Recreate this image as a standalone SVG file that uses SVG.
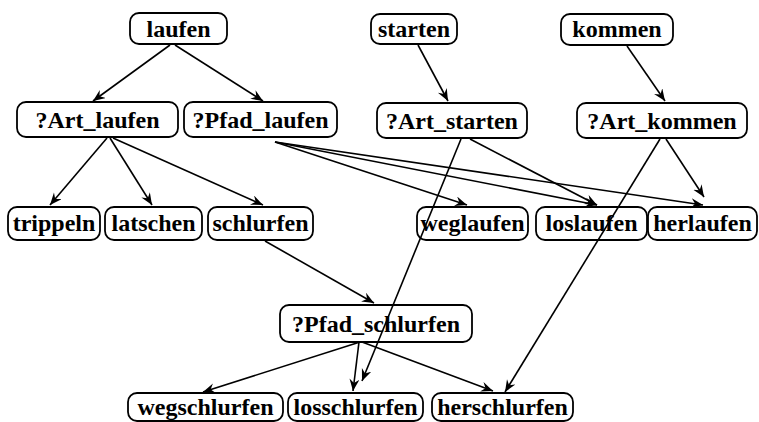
<svg xmlns="http://www.w3.org/2000/svg" width="759" height="422" viewBox="0 0 759 422">
<style>
.n rect{fill:none;stroke:#000;stroke-width:1.8}
.n text{font-family:"Liberation Serif","Times New Roman",serif;font-weight:bold;font-size:24px;text-anchor:middle;fill:#000}
#edges line{stroke:#000;stroke-width:1.6;fill:none}
</style>
<defs>
<marker id="ah" markerUnits="userSpaceOnUse" markerWidth="14" markerHeight="12" refX="12" refY="5" orient="auto">
<path d="M0,0 L12,5 L0,10 L4,5 z" fill="#000"/>
</marker>
</defs>
<rect width="759" height="422" fill="#fff"/>
<g id="edges">
<line x1="170" y1="45" x2="93" y2="101" marker-end="url(#ah)"/>
<line x1="175" y1="45" x2="263" y2="101" marker-end="url(#ah)"/>
<line x1="418" y1="45" x2="448" y2="101" marker-end="url(#ah)"/>
<line x1="627" y1="46" x2="665" y2="101" marker-end="url(#ah)"/>
<line x1="107" y1="138" x2="50" y2="205" marker-end="url(#ah)"/>
<line x1="110" y1="138" x2="152" y2="205" marker-end="url(#ah)"/>
<line x1="113" y1="138" x2="263" y2="205" marker-end="url(#ah)"/>
<line x1="275" y1="142" x2="467" y2="205" marker-end="url(#ah)"/>
<line x1="275" y1="142" x2="597" y2="205" marker-end="url(#ah)"/>
<line x1="275" y1="142" x2="703" y2="205" marker-end="url(#ah)"/>
<line x1="470" y1="139" x2="597" y2="205" marker-end="url(#ah)"/>
<line x1="666" y1="139" x2="704" y2="197" marker-end="url(#ah)"/>
<line x1="461" y1="139" x2="362" y2="381" marker-end="url(#ah)"/>
<line x1="660" y1="139" x2="505" y2="392" marker-end="url(#ah)"/>
<line x1="265" y1="241" x2="374" y2="303" marker-end="url(#ah)"/>
<line x1="360" y1="342" x2="203" y2="392" marker-end="url(#ah)"/>
<line x1="359" y1="342" x2="353" y2="391" marker-end="url(#ah)"/>
<line x1="362" y1="342" x2="493" y2="391" marker-end="url(#ah)"/>
</g>
<g id="laufen" class="n"><rect x="130" y="13" width="97" height="31" rx="9"/><text x="178.5" y="37">laufen</text></g>
<g id="starten" class="n"><rect x="371" y="14" width="86" height="30" rx="9"/><text x="414" y="37">starten</text></g>
<g id="kommen" class="n"><rect x="561" y="14" width="112" height="31" rx="9"/><text x="617" y="37">kommen</text></g>
<g id="art_laufen" class="n"><rect x="17" y="102" width="161" height="35" rx="9"/><text x="97.5" y="128">?Art_laufen</text></g>
<g id="pfad_laufen" class="n"><rect x="184" y="102" width="153" height="35" rx="9"/><text x="260.5" y="128">?Pfad_laufen</text></g>
<g id="art_starten" class="n"><rect x="377" y="103" width="150" height="35" rx="9"/><text x="452" y="129">?Art_starten</text></g>
<g id="art_kommen" class="n"><rect x="577" y="103" width="170" height="35" rx="9"/><text x="662" y="129">?Art_kommen</text></g>
<g id="trippeln" class="n"><rect x="8" y="207" width="92" height="33" rx="9"/><text x="54" y="231">trippeln</text></g>
<g id="latschen" class="n"><rect x="105" y="207" width="97" height="33" rx="9"/><text x="153.5" y="231">latschen</text></g>
<g id="schlurfen" class="n"><rect x="208" y="207" width="105" height="33" rx="9"/><text x="260.5" y="231">schlurfen</text></g>
<g id="weglaufen" class="n"><rect x="417" y="207" width="111" height="33" rx="9"/><text x="472.5" y="231">weglaufen</text></g>
<g id="loslaufen" class="n"><rect x="536" y="207" width="111" height="33" rx="9"/><text x="591.5" y="231">loslaufen</text></g>
<g id="herlaufen" class="n"><rect x="648" y="207" width="109" height="33" rx="9"/><text x="702.5" y="231">herlaufen</text></g>
<g id="pfad_schlurfen" class="n"><rect x="280" y="305" width="192" height="37" rx="9"/><text x="376" y="332">?Pfad_schlurfen</text></g>
<g id="wegschlurfen" class="n"><rect x="128" y="393" width="155" height="28" rx="9"/><text x="205.5" y="415">wegschlurfen</text></g>
<g id="losschlurfen" class="n"><rect x="288" y="393" width="135" height="28" rx="9"/><text x="355.5" y="415">losschlurfen</text></g>
<g id="herschlurfen" class="n"><rect x="432" y="393" width="141" height="28" rx="9"/><text x="502.5" y="415">herschlurfen</text></g>
</svg>
